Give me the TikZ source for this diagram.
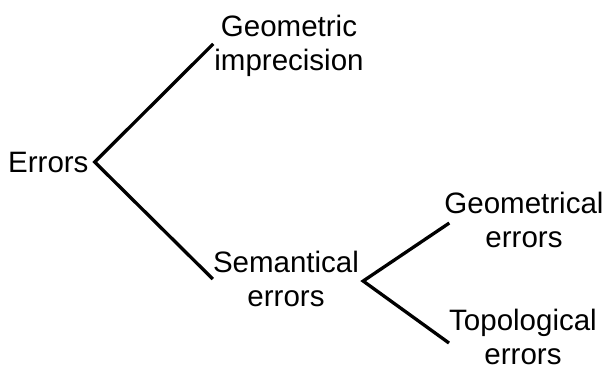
\documentclass[tikz,border=0pt]{standalone}
\usepackage{fontspec}
\setmainfont{Liberation Sans}
\begin{document}
\begin{tikzpicture}[x=1pt,y=-1pt,
  lbl/.style={inner sep=0pt,align=center,font=\fontsize{29.5}{34}\selectfont},
  branch/.style={line width=3.3pt,line join=miter}]
\useasboundingbox (0,0) rectangle (610,370);
\node[lbl,anchor=base west] (err) at (8,172) {Errors};
\node[lbl,anchor=north] (gi) at (289,15) {Geometric\\imprecision};
\node[lbl,anchor=north] (se) at (286,251) {Semantical\\errors};
\node[lbl,anchor=north] (ge) at (524,192) {Geometrical\\errors};
\node[lbl,anchor=north] (te) at (523,309) {Topological\\errors};
\draw[branch] ([shift={(-1,-2)}]gi.west) -- ([shift={(6,0)}]err.east) -- (se.west);
\draw[branch] ([shift={(5,3)}]ge.west) -- ([shift={(4,2)}]se.east) -- ([shift={(0,6)}]te.west);
\end{tikzpicture}
\end{document}
